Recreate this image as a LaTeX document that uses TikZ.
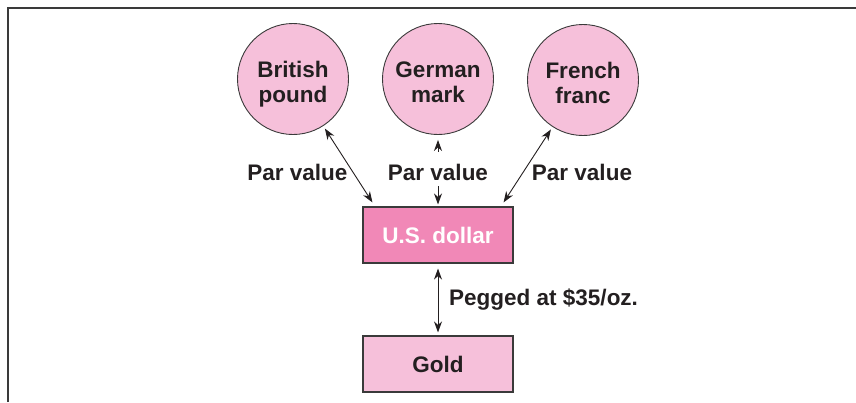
\documentclass[tikz,border=0pt]{standalone}
\usepackage{fontspec}
\setmainfont{Liberation Sans}
\usetikzlibrary{arrows.meta,calc}

\definecolor{inkdark}{HTML}{231F20}
\definecolor{lightpink}{HTML}{F6C0DA}
\definecolor{deeppink}{HTML}{F188B7}
\definecolor{edgegray}{HTML}{3A3A3A}

% two centred lines, drawn a little low while keeping the box size
\newcommand{\twolines}[2]{\raisebox{-6pt}[\height][\depth]{\begin{tabular}{@{}c@{}}#1\\#2\end{tabular}}}

\tikzset{
  txt/.style={font=\fontsize{22.5}{25}\selectfont\bfseries, text=inkdark, inner sep=0pt},
  currency/.style={circle, draw=edgegray, line width=0.9pt, fill=lightpink,
    minimum size=111pt, inner sep=0pt, txt},
  usdbox/.style={rectangle, draw=edgegray, line width=1.1pt, fill=deeppink,
    minimum width=150pt, minimum height=56pt, inner sep=0pt, txt, text=white},
  goldbox/.style={rectangle, draw=edgegray, line width=1.1pt, fill=lightpink,
    minimum width=150pt, minimum height=56pt, inner sep=0pt, txt},
  tip/.tip={Stealth[length=11pt,width=8pt,inset=3.5pt]},
  link/.style={draw=inkdark, line width=0.9pt},
}

\begin{document}
\begin{tikzpicture}[x=1pt, y=-1pt]
  \useasboundingbox (0,0) rectangle (856,402);
  % corner of the surrounding frame
  \draw[line width=1.8pt, draw=edgegray] (8,402) -- (8,8) -- (856,8);

  % currencies
  \node[currency] (bp) at (293,79) {\twolines{British}{pound}};
  \node[currency] (gm) at (438,79) {\twolines{German}{mark}};
  \node[currency] (ff) at (583,80) {\twolines{French}{franc}};

  \node[usdbox] (usd) at (438,235) {U.S. dollar};
  \node[goldbox] (gold) at (438,364) {Gold};

  % labels
  \node[txt] (pvl) at (297.5,172) {Par value};
  \node[txt] (pvm) at (438,172) {Par value};
  \node[txt] (pvr) at (582,172) {Par value};
  \node[txt, anchor=west] (peg) at (449,300) {Pegged at \$35/oz.};

  % anchor points on the dollar box
  \coordinate (usdL) at ($(usd.north west)+(10,-4)$);
  \coordinate (usdR) at ($(usd.north east)+(-10,-4)$);

  % par value links
  \draw[link, {tip}-{tip}, shorten <=3pt] (bp) -- (usdL);
  \draw[link, {tip}-{tip}, shorten <=3pt] (ff) -- (usdR);
  \draw[link, -{tip}] ($(gm.south)+(0,17)$) -- ($(gm.south)+(0,5)$);
  \draw[link, -{tip}] ($(usd.north)+(0,-20)$) -- ($(usd.north)+(0,-2)$);

  % peg to gold
  \draw[link, {tip}-{tip}] ($(usd.south)+(0,5)$) -- ($(gold.north)+(0,-3)$);
\end{tikzpicture}
\end{document}
